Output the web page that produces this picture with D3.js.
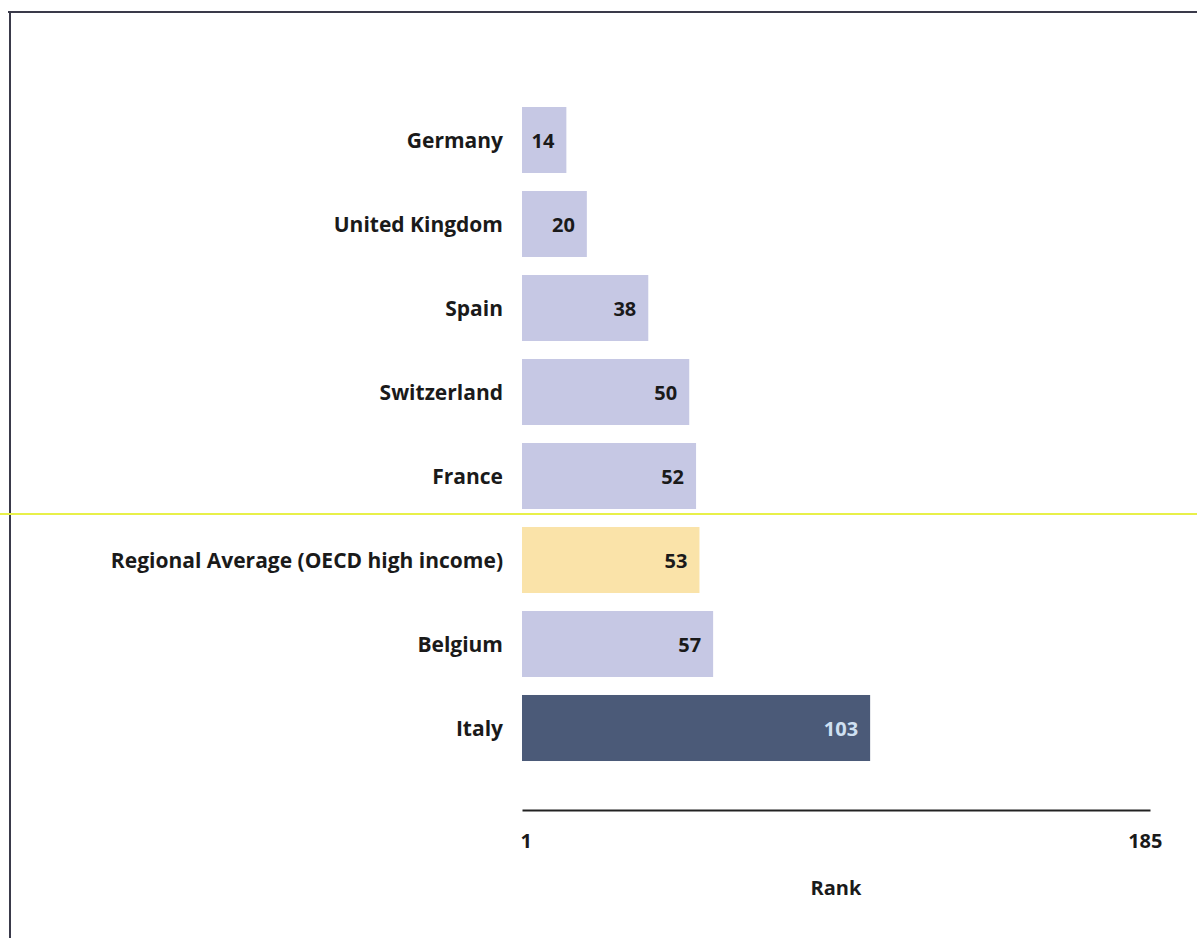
<!DOCTYPE html>
<html>
<head>
<meta charset="utf-8">
<script src="https://cdn.jsdelivr.net/npm/d3@7"></script>
<style>
  html, body { margin: 0; padding: 0; background: #fff; }
  svg { display: block; }
  text { font-family: "Open Sans", "Liberation Sans", sans-serif; font-weight: bold; fill: #1a1a1a; }
</style>
</head>
<body>
<script>
const categories = ["Germany", "United Kingdom", "Spain", "Switzerland", "France",
  "Regional Average (OECD high income)", "Belgium", "Italy"];
const ranks = [14, 20, 38, 50, 52, 53, 57, 103];
const kinds = ["peer", "peer", "peer", "peer", "peer", "regional", "peer", "focus"];
const axisTicks = [1, 185];
const axisTitle = "Rank";

const W = 1197, H = 938;
const svg = d3.select("body").append("svg").attr("width", W).attr("height", H);

// scanned page frame
svg.append("line").attr("x1", 8).attr("x2", W).attr("y1", 12).attr("y2", 12)
  .attr("stroke", "#3a3a4a").attr("stroke-width", 2);
svg.append("line").attr("x1", 10).attr("x2", 10).attr("y1", 11).attr("y2", H)
  .attr("stroke", "#3a3a4a").attr("stroke-width", 2);
// scanner line
svg.append("line").attr("x1", 0).attr("x2", W).attr("y1", 514).attr("y2", 514)
  .attr("stroke", "#e8f04a").attr("stroke-width", 2);

const x = d3.scaleLinear().domain([1, 185]).range([522, 1150]);
const y = d3.scaleBand().domain(categories).range([98, 770])
  .paddingInner(0.214).paddingOuter(0.107);

const fill = { peer: "#c6c8e4", regional: "#fae3a9", focus: "#4b5a78" };
const valColor = { peer: "#1a1a1a", regional: "#1a1a1a", focus: "#cfe0f2" };

const data = categories.map((c, i) => ({ c, v: ranks[i], k: kinds[i] }));

svg.selectAll("rect.bar").data(data).enter().append("rect")
  .attr("class", "bar")
  .attr("x", x(1))
  .attr("y", d => y(d.c))
  .attr("width", d => x(d.v) - x(1))
  .attr("height", y.bandwidth())
  .attr("fill", d => fill[d.k]);

svg.selectAll("text.val").data(data).enter().append("text")
  .attr("class", "val")
  .attr("x", d => x(d.v) - 12)
  .attr("y", d => y(d.c) + y.bandwidth() / 2 + 1)
  .attr("dy", "0.35em")
  .attr("text-anchor", "end")
  .style("font-size", "20px")
  .style("fill", d => valColor[d.k])
  .text(d => d.v);

svg.selectAll("text.cat").data(data).enter().append("text")
  .attr("class", "cat")
  .attr("x", 503)
  .attr("y", d => y(d.c) + y.bandwidth() / 2 + 1)
  .attr("dy", "0.35em")
  .attr("text-anchor", "end")
  .style("font-size", "21px")
  .text(d => d.c);

// axis
const axis = d3.axisBottom(x).tickValues(axisTicks).tickSize(0).tickPadding(24).tickFormat(d3.format("d"));
const g = svg.append("g").attr("transform", "translate(0,810)").call(axis);
g.select(".domain").attr("stroke", "#222").attr("stroke-width", 2);
g.selectAll(".tick text")
  .style("font-size", "20px")
  .style("font-family", "'Open Sans', 'Liberation Sans', sans-serif")
  .style("font-weight", "bold")
  .attr("fill", "#1a1a1a")
  .attr("text-anchor", (d, i) => i === 0 ? "start" : "end")
  .attr("dx", (d, i) => i === 0 ? -2 : 12);

svg.append("text")
  .attr("x", x(93))
  .attr("y", 895)
  .attr("text-anchor", "middle")
  .style("font-size", "20px")
  .text(axisTitle);
</script>
</body>
</html>
